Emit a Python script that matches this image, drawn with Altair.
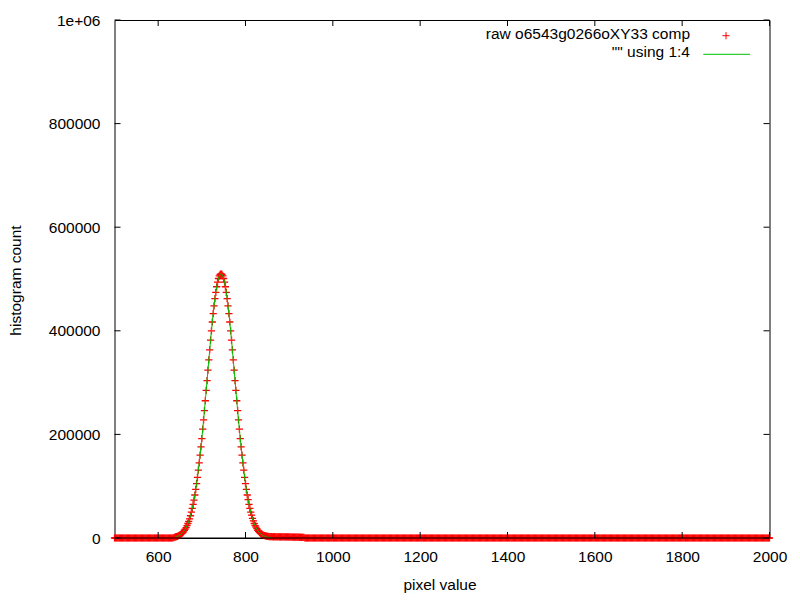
import altair as alt
import pandas as pd

# ---------------- data ----------------
BIN_STEP = 2
# runs of histogram bins (pixel values) present in the file
bin_runs = [(500, 2000)]

# raw histogram counts for bins 636, 638, ... (outside: 0)
peak_start = 636
peak_counts = [
    1000, 1500, 2000, 2500, 3000, 4000, 5000, 6000, 7000, 9000,
    10000, 12000, 15000, 17000, 20000, 24000, 28000, 32000, 37000, 43000,
    50000, 57000, 65000, 73000, 83000, 94000, 105000, 117000, 131000, 145000,
    160000, 176000, 192000, 210000, 228000, 246000, 265000, 285000, 304000, 324000,
    344000, 363000, 382000, 400000, 417000, 433000, 448000, 462000, 474000, 485000,
    494000, 501000, 506000, 509000, 510000, 509000, 506000, 501000, 494000, 485000,
    474000, 462000, 448000, 433000, 417000, 400000, 382000, 363000, 344000, 324000,
    304000, 285000, 265000, 246000, 228000, 210000, 192000, 176000, 160000, 145000,
    131000, 117000, 105000, 94000, 83000, 74000, 65000, 57000, 50000, 44000,
    38000, 33000, 28000, 24000, 21000, 18000, 15000, 13000, 11000, 9000,
    8000, 7000, 6000, 5000, 4500, 4000, 3500, 3000, 3000, 2500,
    2500, 2500, 2500,
    2400, 2300, 2500, 2200, 2400, 2300, 2100, 2400, 2200, 2300,
    2000, 2200, 2100, 2300, 2000, 2100, 1900, 2100, 2000, 1800,
    2000, 1900, 1700, 1900, 1800, 1600, 1800, 1700, 1500, 1700,
    1600, 1400, 1500, 1300, 1400, 1200, 1300,
]

# column 4 ("" using 1:4) for bins 640, 642, ...
fit_start = 640
fit_values = [
    2200, 2700, 3300, 4000, 4900, 5900, 7200, 8600, 10300, 12300,
    14600, 17200, 20300, 23800, 27800, 32300, 37400, 43200, 49600, 56800,
    64700, 73500, 83100, 93600, 105000, 117300, 130600, 144700, 159700, 175600,
    192300, 209700, 227700, 246400, 265400, 284800, 304400, 324100, 343600, 362800,
    381500, 399600, 416900, 433200, 448300, 462000, 474300, 484900, 493800, 500800,
    505900, 509000, 510000, 509000, 505900, 500800, 493800, 484900, 474300, 462000,
    448300, 433200, 416900, 399600, 381500, 362800, 343600, 324100, 304400, 284800,
    265400, 246400, 227700, 209700, 192300, 175600, 159700, 144700, 130600, 117300,
    105000, 93600, 83100, 73500, 64700, 56800, 49600, 43200, 37400, 32300,
    27800, 23800, 20300, 17200, 14600, 12300, 10300, 8600, 7200, 5900,
    4900, 4000, 3300, 2700, 2200, 1800, 1400, 1100, 900, 700,
    600,
]

x_tick_values = [600, 800, 1000, 1200, 1400, 1600, 1800, 2000]
y_tick_values = [0, 200000, 400000, 600000, 800000, 1000000]
legend_labels = ["raw o6543g0266oXY33 comp", '"" using 1:4']
x_title = "pixel value"
y_title = "histogram count"

# ---------------- tables ----------------
pts_rows = []
for a, b in bin_runs:
    for xv in range(a, b + 1, BIN_STEP):
        i = (xv - peak_start) // BIN_STEP
        c = peak_counts[i] if 0 <= i < len(peak_counts) else 0
        pts_rows.append({"x": xv, "count": c})
pts = pd.DataFrame(pts_rows)
fit = pd.DataFrame({"x": [fit_start + BIN_STEP * i for i in range(len(fit_values))],
                    "count": fit_values})
xt = pd.DataFrame({"x": x_tick_values})
yt = pd.DataFrame({"count": y_tick_values})
zero = pd.DataFrame({"count": [0]})
one = pd.DataFrame({"k": [0]})

W, H = 655, 518
FONT = "Liberation Sans"
FS = 15.5

xscale = alt.Scale(domain=[500, 2000], nice=False, zero=False)
yscale = alt.Scale(domain=[0, 1000000], nice=False)

xaxis = alt.Axis(values=x_tick_values, title=x_title, labelPadding=23, format="d",
                 labelBaseline="alphabetic", labelFlush=False, labelOverlap=False,
                 titleBaseline="alphabetic", titleY=51, titleX=325)
yaxis = alt.Axis(values=y_tick_values, title=y_title, labelPadding=14.5,
                 labelFlush=False, labelOverlap=False,
                 labelExpr="datum.value >= 1000000 ? '1e+06' : format(datum.value, 'd')",
                 titleBaseline="alphabetic", titleX=-94, titleY=260, titleAngle=270)

X = alt.X("x:Q", scale=xscale, axis=xaxis)
Y = alt.Y("count:Q", scale=yscale, axis=yaxis)

points = alt.Chart(pts).mark_point(
    shape="M-1,0L1,0M0,-1L0,1", filled=False, color="#ff0000",
    strokeWidth=1.3, size=52, opacity=1, clip=False
).encode(x=X, y=Y)

line = alt.Chart(fit).mark_line(color="#00c000", strokeWidth=1).encode(x=X, y=Y)

zero_line = alt.Chart(zero).mark_rule(color="black", strokeWidth=1).encode(
    y=Y, x=alt.value(0), x2=alt.value(W))

TL = 6
bottom_ticks = alt.Chart(xt).mark_rule(color="black", strokeWidth=1).encode(
    x=X, y=alt.value(H), y2=alt.value(H - TL))
top_ticks = alt.Chart(xt).mark_rule(color="black", strokeWidth=1).encode(
    x=X, y=alt.value(0), y2=alt.value(TL))
left_ticks = alt.Chart(yt).mark_rule(color="black", strokeWidth=1).encode(
    y=Y, x=alt.value(0), x2=alt.value(TL))
right_ticks = alt.Chart(yt).mark_rule(color="black", strokeWidth=1).encode(
    y=Y, x=alt.value(W), x2=alt.value(W - TL))

leg_text1 = alt.Chart(one).mark_text(
    font=FONT, fontSize=FS, align="right", baseline="alphabetic", color="black"
).encode(x=alt.value(575.5), y=alt.value(19), text=alt.value(legend_labels[0]))
leg_text2 = alt.Chart(one).mark_text(
    font=FONT, fontSize=FS, align="right", baseline="alphabetic", color="black"
).encode(x=alt.value(575.5), y=alt.value(36.7), text=alt.value(legend_labels[1]))
leg_plus = alt.Chart(one).mark_point(
    shape="M-1,0L1,0M0,-1L0,1", filled=False, color="#ff0000",
    strokeWidth=1, size=52, opacity=1
).encode(x=alt.value(611.5), y=alt.value(15.7))
leg_line = alt.Chart(one).mark_rule(color="#00c000", strokeWidth=1).encode(
    x=alt.value(588.8), x2=alt.value(635.5), y=alt.value(34.3))

chart = alt.layer(
    points, line, zero_line, bottom_ticks, top_ticks, left_ticks, right_ticks,
    leg_text1, leg_text2, leg_plus, leg_line,
).properties(
    width=W, height=H,
    autosize=alt.AutoSizeParams(type="none"),
    padding={"left": 106.5, "top": 12, "right": 20, "bottom": 56},
    background="white",
).configure_view(
    stroke="black", strokeWidth=1
).configure_axis(
    labelFont=FONT, titleFont=FONT, labelFontSize=FS, titleFontSize=FS,
    titleFontWeight="normal", labelColor="black", titleColor="black",
    grid=False, ticks=False, tickSize=0, domain=False,
)

chart.save("out.html", embed_options={"renderer": "svg", "actions": False})
